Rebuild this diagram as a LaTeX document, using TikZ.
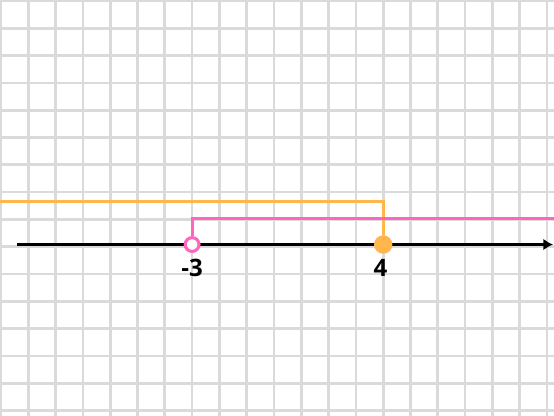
\documentclass[tikz,border=0pt]{standalone}
\usepackage{fontspec}
\setmainfont{Open Sans}
\usepackage{tikz}
\usetikzlibrary{positioning,arrows.meta}

\definecolor{gridgray}{RGB}{218,218,218}
\definecolor{solorange}{RGB}{255,183,77}
\definecolor{solpink}{RGB}{255,100,190}

\begin{document}
\begin{tikzpicture}[
        x=0.5cm, y=0.5cm,
        >={Latex[length=5pt,width=6pt]},
        gridline/.style={draw=gridgray,line width=1.4pt},
        axisline/.style={draw=black,line width=1.6pt},
        sol/.style={line width=1.5pt},
        opendot/.style={circle,draw=solpink,fill=white,line width=1.6pt,inner sep=0pt,minimum size=7.2pt},
        filldot/.style={circle,fill=solorange,inner sep=0pt,minimum size=9.6pt},
        tick/.style={font=\fontsize{12.5}{14}\selectfont\bfseries,inner sep=1pt},
      ]
      \useasboundingbox (-10.037,-6.165) rectangle (10.256,9.037);

      % Grid
      \foreach \x in {-10,...,10}
        \draw[gridline] (\x,-6.3) -- (\x,9.2);
      \foreach \y in {-6,...,9}
        \draw[gridline] (-10.2,\y) -- (10.4,\y);

      % Number line
      \coordinate (aL) at (-9.41,0.08);
      \coordinate (aR) at (10.22,0.08);
      \draw[axisline,->] (aL) -- (aR);

      % Endpoints
      \node[opendot] (m3) at (-3,0.08) {};
      \node[filldot] (p4) at (4,0.08) {};
      \node[tick] (lm3) at (-3,-0.78) {-3};
      \node[tick] (lp4) at (3.9,-0.78) {4};

      % Solution rays
      \coordinate (oL) at (-10.2,1.65);
      \coordinate (pR) at (10.4,1.04);
      \draw[sol,solorange] (oL) -| (p4);
      \draw[sol,solpink] (m3) |- (pR);
    \end{tikzpicture}
\end{document}
